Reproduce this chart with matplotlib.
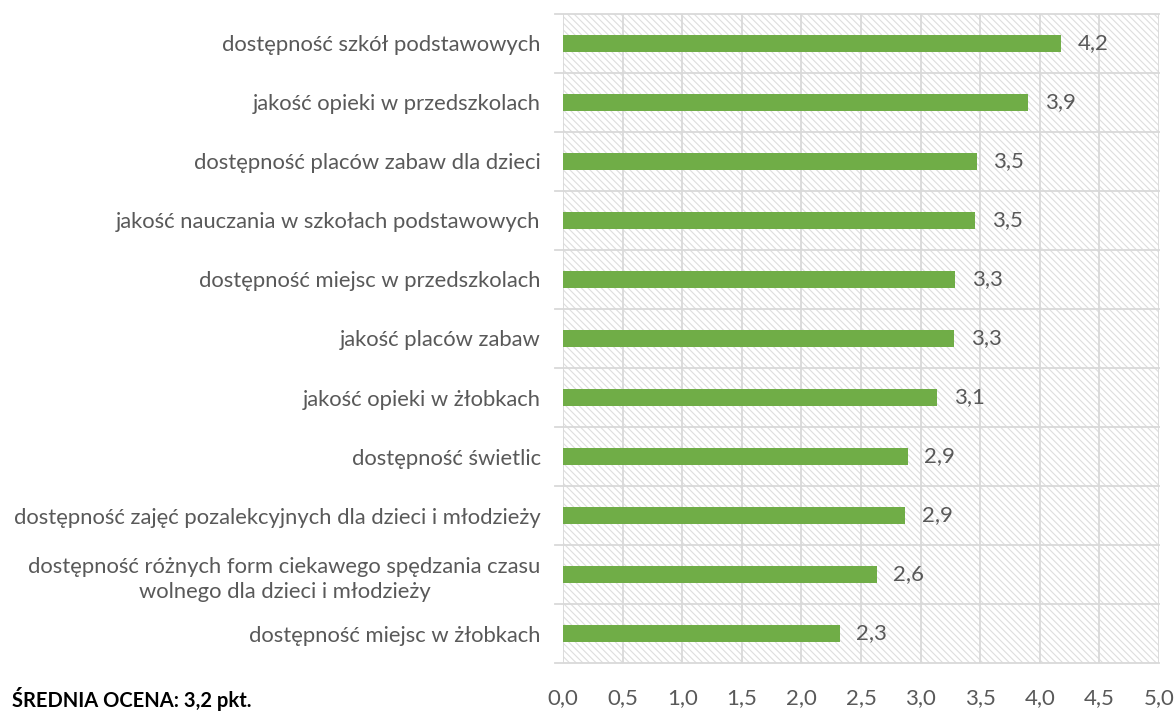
import matplotlib.pyplot as plt
from matplotlib.patches import Rectangle

plt.rcParams['font.family'] = ['Lato', 'DejaVu Sans']
plt.rcParams['hatch.linewidth'] = 0.8
plt.rcParams['hatch.color'] = '#dedede'

# categories from top to bottom
categories = [
    'dostępność szkół podstawowych',
    'jakość opieki w przedszkolach',
    'dostępność placów zabaw dla dzieci',
    'jakość nauczania w szkołach podstawowych',
    'dostępność miejsc w przedszkolach',
    'jakość placów zabaw',
    'jakość opieki w żłobkach',
    'dostępność świetlic',
    'dostępność zajęć pozalekcyjnych dla dzieci i młodzieży',
    'dostępność różnych form ciekawego spędzania czasu\nwolnego dla dzieci i młodzieży',
    'dostępność miejsc w żłobkach',
]
scores = [4.18, 3.90, 3.47, 3.46, 3.29, 3.28, 3.14, 2.89, 2.87, 2.63, 2.32]
x_ticks = [0, 0.5, 1.0, 1.5, 2.0, 2.5, 3.0, 3.5, 4.0, 4.5, 5.0]
summary = 'ŚREDNIA OCENA: 3,2 pkt.'

text_col = '#595959'
grid_col = '#d9d9d9'
green = '#70ad47'

fig = plt.figure(figsize=(11.76, 7.13), dpi=100)
ax = fig.add_axes([0.4787, 0.0701, 0.5069, 0.9103])

n = len(categories)
pos = list(range(n))

# hatched background of the plot area
ax.add_patch(Rectangle((0, -0.5), 5, n, facecolor='white', edgecolor='#dedede',
                       hatch='\\\\\\\\\\', linewidth=0, zorder=0))

ax.barh(pos, scores, height=0.29, color=green, zorder=3)
for p, s in zip(pos, scores):
    ax.text(s + 0.14, p, f'{s:.1f}'.replace('.', ','), va='center', ha='left',
            fontsize=16, color=text_col, zorder=4)

ax.set_xlim(0, 5)
ax.set_ylim(n - 0.5, -0.5)
ax.set_xticks(x_ticks)
ax.set_xticklabels([f'{t:.1f}'.replace('.', ',') for t in x_ticks], fontsize=16, color=text_col)
ax.set_yticks(pos)
ax.set_yticklabels(categories, fontsize=15.8, color=text_col)
for lbl in ax.get_yticklabels():
    lbl.set_multialignment('center')
    lbl.set_linespacing(1.35)
ax.tick_params(axis='y', length=0, pad=16)
ax.tick_params(axis='x', length=0, pad=18)

# gridlines: vertical at x ticks, horizontal at category boundaries
for t in x_ticks:
    ax.axvline(t, color=grid_col, lw=1.3, zorder=1)
bounds = [i - 0.5 for i in range(n + 1)]
for b in bounds:
    ax.plot([-0.07, 5], [b, b], color=grid_col, lw=1.3, zorder=1, clip_on=False)

for sp in ax.spines.values():
    sp.set_visible(False)

fig.text(0.01, 0.008, summary, fontsize=14.5, fontweight='bold', color='black')

fig.savefig('out.png', dpi=100)
